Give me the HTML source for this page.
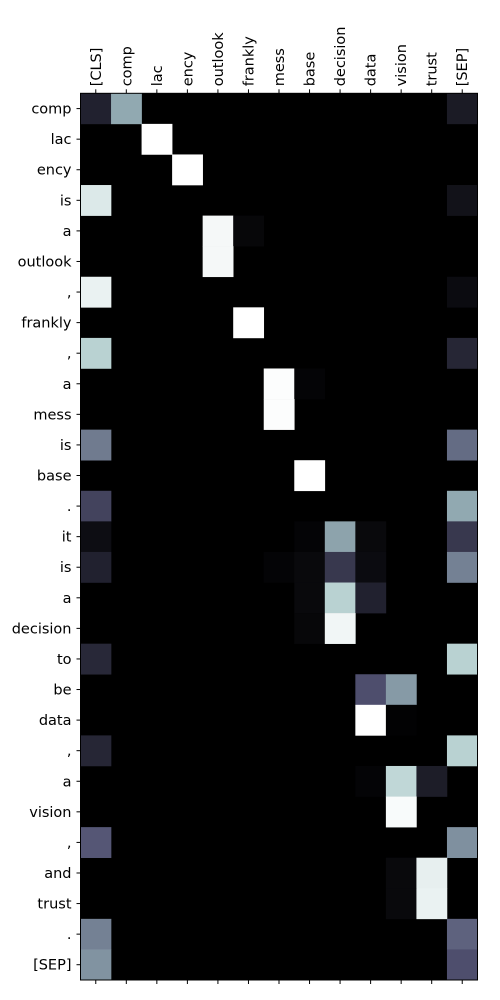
<!DOCTYPE html>
<html><head><meta charset="utf-8"><style>body{margin:0;background:#fff}svg{display:block}text{font-family:"DejaVu Sans","Liberation Sans",sans-serif;font-size:14.5px;fill:#000}</style></head>
<body>
<svg id="chart" width="500" height="1000" xmlns="http://www.w3.org/2000/svg"></svg>
<script>
const cols = ["[CLS]","comp","lac","ency","outlook","frankly","mess","base","decision","data","vision","trust","[SEP]"];
const rows = ["comp","lac","ency","is","a","outlook",",","frankly",",","a","mess","is","base",".","it","is","a","decision","to","be","data",",","a","vision",",","and","trust",".","[SEP]"];
// sparse values: [row, col, value]
const cells = [
[0,0,.15],[0,1,.65],[0,12,.12],
[1,2,1],[2,3,1],
[3,0,.9],[3,12,.08],
[4,4,.97],[4,5,.03],
[5,4,.97],
[6,0,.94],[6,12,.05],
[7,5,1],
[8,0,.8],[8,12,.17],
[9,6,.99],[9,7,.02],
[10,6,.99],
[11,0,.5],[11,12,.45],
[12,7,1],
[13,0,.3],[13,12,.65],
[14,0,.06],[14,7,.02],[14,8,.63],[14,9,.04],[14,12,.25],
[15,0,.15],[15,6,.02],[15,7,.04],[15,8,.25],[15,9,.05],[15,12,.52],
[16,7,.04],[16,8,.8],[16,9,.15],
[17,7,.03],[17,8,.96],
[18,0,.18],[18,12,.8],
[19,9,.35],[19,10,.6],
[20,9,1],[20,10,.01],
[21,0,.17],[21,12,.8],
[22,9,.02],[22,10,.82],[22,11,.13],
[23,10,.98],
[24,0,.38],[24,12,.57],
[25,10,.04],[25,11,.93],
[26,10,.04],[26,11,.94],
[27,0,.52],[27,12,.42],
[28,0,.58],[28,12,.35]
];
const L=80.5,T=93.3,R=477.5,B=980;
const cw=(R-L)/cols.length, ch=(B-T)/rows.length;
const xs=i=>L+i*cw, ys=j=>T+j*ch;
function interp(v,pts){for(let k=1;k<pts.length;k++){if(v<=pts[k][0]){const[a,av]=pts[k-1],[b,bv]=pts[k];return av+(bv-av)*(v-a)/(b-a);}}return 1;}
function bone(v){const r=interp(v,[[0,0],[.746032,.652778],[1,1]]),g=interp(v,[[0,0],[.365079,.319444],[.746032,.777778],[1,1]]),b=interp(v,[[0,0],[.365079,.444444],[1,1]]);return `rgb(${Math.round(r*255)},${Math.round(g*255)},${Math.round(b*255)})`;}
const svg=document.getElementById('chart');const NS="http://www.w3.org/2000/svg";
function mk(t,a){const e=document.createElementNS(NS,t);for(const k in a)e.setAttribute(k,a[k]);svg.appendChild(e);return e;}
const bg=mk('rect',{x:L,y:T,width:R-L,height:B-T,fill:'#000'});


cells.forEach(([r,c,v])=>{const e=mk('rect',{x:xs(c),y:ys(r),width:cw+0.3,height:ch+0.3,fill:bone(v)});

});
const fr=mk('rect',{x:L,y:T,width:R-L,height:B-T,fill:'none',stroke:'#000','stroke-width':1});


cols.forEach((c,i)=>{const cx=xs(i)+cw/2;
mk('line',{x1:cx,y1:T,x2:cx,y2:T-4,stroke:'#000'});mk('line',{x1:cx,y1:B,x2:cx,y2:B+4,stroke:'#000'});
const t=mk('text',{x:0,y:0,transform:`translate(${cx+5},${T-7}) rotate(-90)`});t.textContent=c;

});
rows.forEach((r,j)=>{const cy=ys(j)+ch/2;
mk('line',{x1:L,y1:cy,x2:L-4,y2:cy,stroke:'#000'});
const t=mk('text',{x:L-9,y:cy+5,'text-anchor':'end'});t.textContent=r;

});
</script>
</body></html>
